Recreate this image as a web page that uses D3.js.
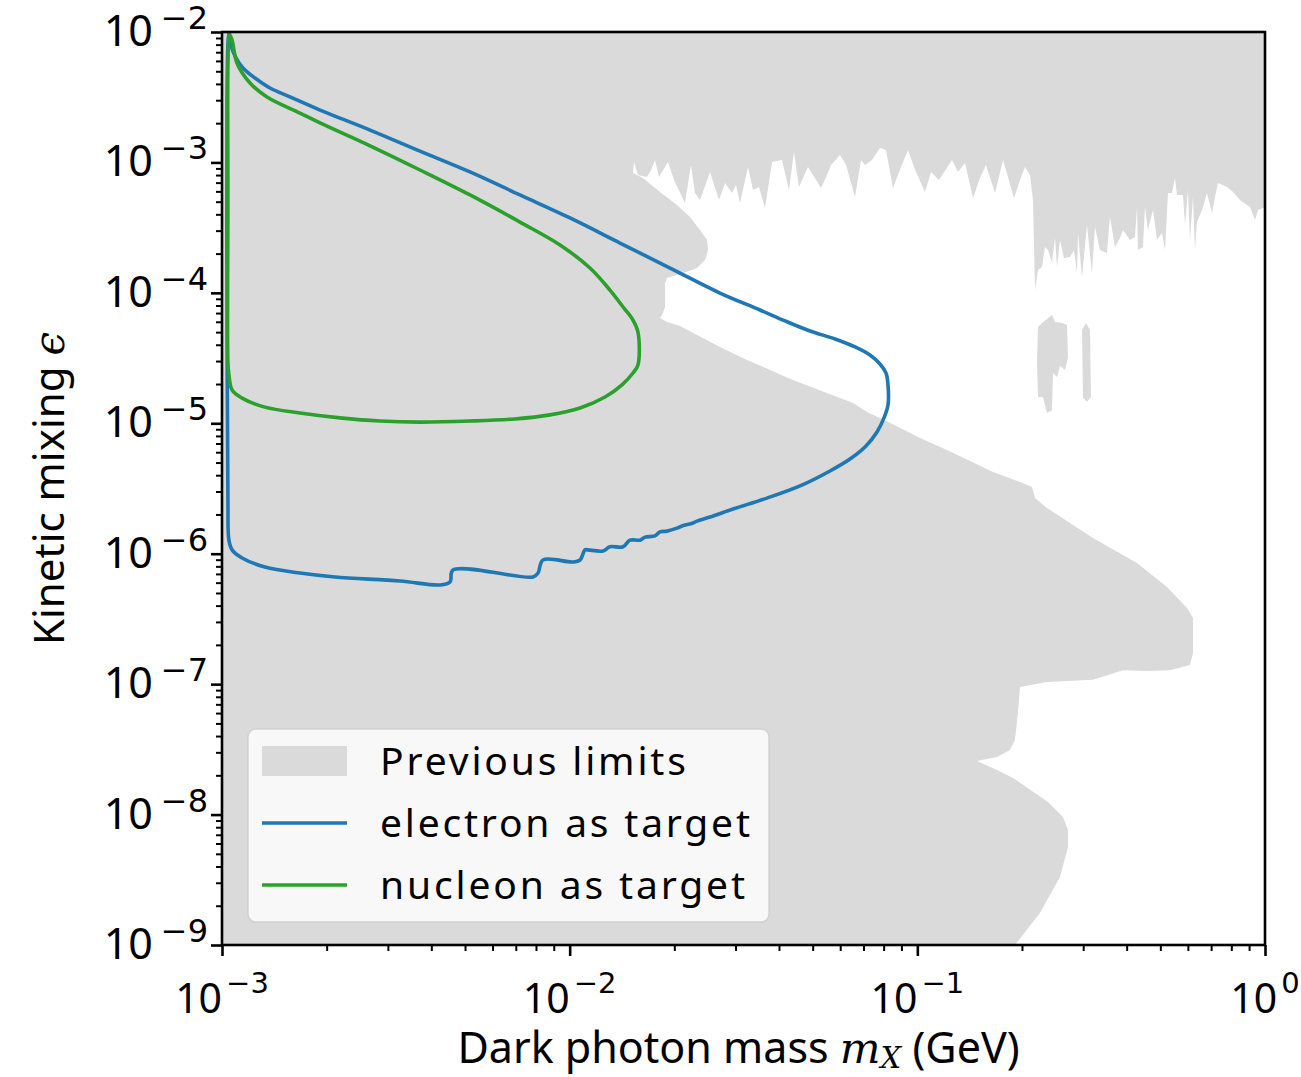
<!DOCTYPE html>
<html>
<head>
<meta charset="utf-8">
<script src="https://cdn.jsdelivr.net/npm/d3@7"></script>
<style>
  body { margin: 0; background: #ffffff; }
  svg { display: block; }
  text { font-family: "Noto Sans", "DejaVu Sans", sans-serif; fill: #000; }
</style>
</head>
<body>
<svg id="chart" width="1301" height="1077"></svg>
<script>
// ---- data -------------------------------------------------------------
// axis decades (powers of ten)
const xTickExponents = [-3, -2, -1, 0];
const yTickExponents = [-9, -8, -7, -6, -5, -4, -3, -2];

// sensitivity contour, electron as target: [mass (GeV), epsilon]
const electronTarget = [
  [1.047e-3, 9.82e-3], [1.061e-3, 7.95e-3], [1.090e-3, 6.55e-3], [1.149e-3, 5.30e-3],
  [1.244e-3, 4.44e-3], [1.374e-3, 3.72e-3], [1.569e-3, 3.18e-3], [1.914e-3, 2.52e-3],
  [2.666e-3, 1.77e-3], [3.711e-3, 1.22e-3], [5.168e-3, 8.45e-4], [7.195e-3, 5.63e-4],
  [1.002e-2, 3.75e-4], [1.396e-2, 2.41e-4], [1.944e-2, 1.55e-4], [2.706e-2, 9.97e-5],
  [3.528e-2, 7.39e-5], [4.163e-2, 6.09e-5], [4.913e-2, 5.10e-5], [5.797e-2, 4.43e-5],
  [6.619e-2, 3.85e-5], [7.307e-2, 3.34e-5], [7.808e-2, 2.85e-5], [8.125e-2, 2.43e-5],
  [8.234e-2, 1.97e-5], [8.234e-2, 1.38e-5], [8.018e-2, 1.10e-5], [7.656e-2, 8.58e-6],
  [7.118e-2, 6.70e-6], [6.401e-2, 5.32e-6], [5.608e-2, 4.31e-6], [4.598e-2, 3.31e-6],
  [3.695e-2, 2.67e-6], [2.950e-2, 2.20e-6], [2.533e-2, 1.91e-6], [2.324e-2, 1.78e-6],
  [2.263e-2, 1.72e-6], [2.104e-2, 1.63e-6], [2.036e-2, 1.57e-6], [1.905e-2, 1.49e-6],
  [1.819e-2, 1.47e-6], [1.760e-2, 1.37e-6], [1.647e-2, 1.34e-6], [1.594e-2, 1.27e-6],
  [1.491e-2, 1.27e-6], [1.424e-2, 1.13e-6], [1.306e-2, 1.13e-6], [1.247e-2, 1.05e-6],
  [1.129e-2, 1.07e-6], [1.107e-2, 1.07e-6], [1.071e-2, 8.95e-7], [1.022e-2, 8.64e-7],
  [8.380e-3, 8.95e-7], [8.107e-3, 7.11e-7], [7.843e-3, 6.63e-7], [4.617e-3, 7.50e-7],
  [4.526e-3, 6.07e-7], [4.236e-3, 5.76e-7], [3.251e-3, 6.18e-7], [2.113e-3, 6.63e-7],
  [1.676e-3, 7.11e-7], [1.329e-3, 7.91e-7], [1.142e-3, 9.27e-7], [1.069e-3, 1.07e-6],
  [1.047e-3, 1.27e-6], [1.040e-3, 2.58e-6], [1.034e-3, 8.82e-5], [1.034e-3, 3.01e-3],
  [1.040e-3, 7.95e-3], [1.047e-3, 9.82e-3]
];

// sensitivity contour, nucleon as target: [mass (GeV), epsilon]
const nucleonTarget = [
  [1.047e-3, 9.82e-3], [1.069e-3, 8.68e-3], [1.104e-3, 5.78e-3], [1.204e-3, 4.06e-3],
  [1.347e-3, 3.18e-3], [1.676e-3, 2.39e-3], [1.914e-3, 2.01e-3], [2.666e-3, 1.34e-3],
  [3.711e-3, 8.75e-4], [5.168e-3, 5.63e-4], [7.195e-3, 3.49e-4], [9.381e-3, 2.33e-4],
  [1.144e-2, 1.55e-4], [1.306e-2, 1.05e-4], [1.424e-2, 7.79e-5], [1.521e-2, 6.19e-5],
  [1.572e-2, 5.01e-5], [1.572e-2, 2.80e-5], [1.521e-2, 2.43e-5], [1.414e-2, 1.97e-5],
  [1.264e-2, 1.59e-5], [1.071e-2, 1.31e-5], [8.779e-3, 1.16e-5], [6.961e-3, 1.08e-5],
  [5.168e-3, 1.04e-5], [3.711e-3, 1.02e-5], [2.848e-3, 1.04e-5], [2.185e-3, 1.10e-5],
  [1.676e-3, 1.20e-5], [1.329e-3, 1.33e-5], [1.142e-3, 1.56e-5], [1.069e-3, 1.80e-5],
  [1.047e-3, 2.35e-5], [1.040e-3, 2.90e-5], [1.040e-3, 5.15e-4], [1.040e-3, 6.10e-3],
  [1.047e-3, 9.82e-3]
];

// previous limits: everything is excluded except the gap bounded by this outline
const openGap = [
  [1.521e-2, 8.30e-4], [1.531e-2, 1.008e-3], [1.572e-2, 8.01e-4], [1.669e-2, 7.73e-4],
  [1.714e-2, 8.75e-4], [1.760e-2, 1.044e-3], [1.807e-2, 7.73e-4], [1.918e-2, 1.008e-3],
  [1.996e-2, 7.34e-4], [2.146e-2, 4.89e-4], [2.233e-2, 9.56e-4], [2.293e-2, 5.83e-4],
  [2.371e-2, 5.15e-4], [2.533e-2, 8.45e-4], [2.689e-2, 5.15e-4], [2.798e-2, 6.96e-4],
  [2.931e-2, 5.83e-4], [3.009e-2, 6.71e-4], [3.090e-2, 4.89e-4], [3.258e-2, 9.23e-4],
  [3.368e-2, 6.15e-4], [3.505e-2, 6.48e-4], [3.647e-2, 4.47e-4], [3.820e-2, 1.008e-3],
  [4.080e-2, 1.044e-3], [4.274e-2, 6.15e-4], [4.417e-2, 1.202e-3], [4.566e-2, 6.48e-4],
  [4.847e-2, 9.23e-4], [5.284e-2, 6.37e-4], [5.498e-2, 8.01e-4], [5.646e-2, 9.56e-4],
  [5.994e-2, 1.140e-3], [6.237e-2, 9.56e-4], [6.619e-2, 5.43e-4], [6.886e-2, 1.044e-3],
  [7.071e-2, 9.56e-4], [7.404e-2, 1.044e-3], [7.808e-2, 1.290e-3], [8.125e-2, 1.245e-3],
  [8.511e-2, 6.37e-4], [8.974e-2, 9.23e-4], [9.400e-2, 1.245e-3], [9.781e-2, 9.23e-4],
  [1.052e-1, 5.93e-4], [1.095e-1, 8.45e-4], [1.154e-1, 7.34e-4], [1.258e-1, 1.044e-3],
  [1.309e-1, 8.45e-4], [1.371e-1, 9.90e-4], [1.446e-1, 5.34e-4], [1.514e-1, 7.60e-4],
  [1.576e-1, 9.56e-4], [1.673e-1, 5.83e-4], [1.764e-1, 1.044e-3], [1.897e-1, 5.34e-4],
  [1.974e-1, 7.34e-4], [2.040e-1, 9.23e-4], [2.109e-1, 8.01e-4], [2.151e-1, 5.15e-4],
  [2.180e-1, 1.05e-4], [2.224e-1, 1.50e-4], [2.283e-1, 1.58e-4], [2.329e-1, 2.25e-4],
  [2.376e-1, 2.13e-4], [2.439e-1, 1.72e-4], [2.489e-1, 2.63e-4], [2.522e-1, 1.58e-4],
  [2.572e-1, 2.54e-4], [2.641e-1, 1.85e-4], [2.748e-1, 1.88e-4], [2.822e-1, 2.13e-4],
  [2.879e-1, 1.42e-4], [2.898e-1, 2.88e-4], [2.976e-1, 1.32e-4], [3.076e-1, 3.31e-4],
  [3.179e-1, 1.42e-4], [3.243e-1, 3.20e-4], [3.352e-1, 2.13e-4], [3.511e-1, 2.02e-4],
  [3.581e-1, 3.82e-4], [3.702e-1, 2.25e-4], [3.827e-1, 2.63e-4], [3.904e-1, 3.03e-4],
  [4.089e-1, 2.54e-4], [4.227e-1, 2.68e-4], [4.283e-1, 4.47e-4], [4.311e-1, 2.13e-4],
  [4.457e-1, 2.25e-4], [4.516e-1, 4.55e-4], [4.607e-1, 3.03e-4], [4.762e-1, 4.32e-4],
  [4.890e-1, 2.54e-4], [5.055e-1, 2.88e-4], [5.157e-1, 2.13e-4], [5.260e-1, 5.83e-4],
  [5.401e-1, 5.83e-4], [5.509e-1, 7.60e-4], [5.583e-1, 5.63e-4], [5.809e-1, 5.63e-4],
  [5.886e-1, 3.31e-4], [6.004e-1, 6.15e-4], [6.084e-1, 2.54e-4], [6.206e-1, 5.43e-4],
  [6.289e-1, 2.13e-4], [6.373e-1, 3.49e-4], [6.587e-1, 4.32e-4], [6.809e-1, 5.83e-4],
  [7.038e-1, 4.10e-4], [7.180e-1, 5.43e-4], [7.324e-1, 6.96e-4], [7.776e-1, 6.48e-4],
  [8.091e-1, 5.93e-4], [8.474e-1, 5.15e-4], [9.055e-1, 4.55e-4], [9.360e-1, 3.62e-4],
  [9.546e-1, 4.32e-4], [9.868e-1, 4.47e-4], [1.0, 4.47e-4], [1.0, 1e-9],
  [1.909e-1, 1e-9], [2.253e-1, 1.76e-9], [2.572e-1, 3.32e-9], [2.712e-1, 5.64e-9],
  [2.712e-1, 7.62e-9], [2.624e-1, 9.58e-9], [2.376e-1, 1.25e-8], [1.884e-1, 1.91e-8],
  [1.695e-1, 2.20e-8], [1.484e-1, 2.58e-8], [1.695e-1, 2.76e-8], [1.847e-1, 3.13e-8],
  [1.909e-1, 3.73e-8], [1.947e-1, 6.01e-8], [1.974e-1, 9.51e-8], [2.360e-1, 1.04e-7],
  [3.200e-1, 1.08e-7], [3.904e-1, 1.28e-7], [4.576e-1, 1.26e-7], [5.330e-1, 1.28e-7],
  [6.084e-1, 1.40e-7], [6.206e-1, 1.73e-7], [6.206e-1, 3.22e-7], [5.965e-1, 3.84e-7],
  [5.225e-1, 5.56e-7], [4.283e-1, 8.49e-7], [3.200e-1, 1.32e-6], [2.360e-1, 2.24e-6],
  [2.180e-1, 2.67e-6], [2.137e-1, 3.25e-6], [1.974e-1, 3.55e-6], [1.651e-1, 4.23e-6],
  [1.217e-1, 6.24e-6], [1.018e-1, 7.71e-6], [8.344e-2, 1.01e-5], [7.165e-2, 1.22e-5],
  [6.532e-2, 1.43e-5], [4.388e-2, 2.15e-5], [3.236e-2, 3.06e-5], [2.706e-2, 3.85e-5],
  [2.077e-2, 5.57e-5], [1.905e-2, 5.98e-5], [1.819e-2, 6.42e-5], [1.844e-2, 6.77e-5],
  [1.881e-2, 7.79e-5], [1.881e-2, 1.19e-4], [1.905e-2, 1.30e-4], [2.036e-2, 1.37e-4],
  [2.175e-2, 1.45e-4], [2.324e-2, 1.55e-4], [2.451e-2, 1.79e-4], [2.500e-2, 2.13e-4],
  [2.483e-2, 2.54e-4], [2.371e-2, 3.03e-4], [2.219e-2, 3.82e-4], [2.036e-2, 4.72e-4],
  [1.819e-2, 5.93e-4], [1.625e-2, 7.60e-4]
];

// small excluded islands inside the gap
const islandA = [
  [2.224e-1, 5.47e-5], [2.283e-1, 5.87e-5], [2.439e-1, 6.77e-5], [2.489e-1, 5.98e-5],
  [2.607e-1, 5.87e-5], [2.694e-1, 5.67e-5], [2.712e-1, 3.22e-5], [2.659e-1, 2.56e-5],
  [2.572e-1, 2.75e-5], [2.522e-1, 2.26e-5], [2.456e-1, 2.43e-5], [2.439e-1, 1.26e-5],
  [2.360e-1, 1.20e-5], [2.298e-1, 1.59e-5], [2.224e-1, 1.59e-5], [2.209e-1, 2.90e-5]
];
const islandB = [
  [2.976e-1, 5.19e-5], [3.056e-1, 5.87e-5], [3.138e-1, 5.19e-5], [3.158e-1, 1.59e-5],
  [3.076e-1, 1.46e-5], [2.996e-1, 1.56e-5]
];

const legendLabels = ["Previous limits", "electron as target", "nucleon as target"];

// ---- layout -----------------------------------------------------------
const plot = { left: 222, right: 1265, top: 32, bottom: 945 };
const GRAY = "#dadada", BLUE = "#1f77b4", GREEN = "#2ca02c";
const TICK_FONT = 41, SUP = 29, TITLE_FONT = 43, LEGEND_FONT = 39;
const MATH = "'DejaVu Serif', 'Liberation Serif', serif";

const svg = d3.select("#chart");

const x = d3.scaleLog().domain([1e-3, 1]).range([plot.left, plot.right]);
const y = d3.scaleLog().domain([1e-9, 1e-2]).range([plot.bottom, plot.top]);

svg.append("defs").append("clipPath").attr("id", "plotClip")
  .append("rect")
  .attr("x", x.range()[0]).attr("y", y.range()[1])
  .attr("width", x.range()[1] - x.range()[0])
  .attr("height", y.range()[0] - y.range()[1]);

const g = svg.append("g").attr("clip-path", "url(#plotClip)");

const polyLine = d3.line().x(d => x(d[0])).y(d => y(d[1])).curve(d3.curveLinear);
const contourLine = d3.line().x(d => x(d[0])).y(d => y(d[1])).curve(d3.curveCatmullRom.alpha(0.5));

// excluded region = full frame with the open gap cut out
const [x0, x1] = x.range();
const [y0, y1] = y.range();
const frame = `M${x0},${y1}H${x1}V${y0}H${x0}Z`;
g.append("path")
  .attr("d", frame + polyLine(openGap) + "Z")
  .attr("fill", GRAY)
  .attr("fill-rule", "evenodd");
[islandA, islandB].forEach(poly => {
  g.append("path").attr("d", polyLine(poly) + "Z").attr("fill", GRAY);
});

// sensitivity contours
[[electronTarget, BLUE], [nucleonTarget, GREEN]].forEach(([data, color]) => {
  g.append("path")
    .attr("d", contourLine(data))
    .attr("fill", "none")
    .attr("stroke", color)
    .attr("stroke-width", 3.6)
    .attr("stroke-linejoin", "round")
    .attr("stroke-linecap", "round");
});

// ---- axes -------------------------------------------------------------
const decades = e => d3.range(2, 10).map(k => k * Math.pow(10, e));
const xMajor = xTickExponents.map(e => Math.pow(10, e));
const yMajor = yTickExponents.map(e => Math.pow(10, e));
const xMinor = xTickExponents.slice(0, -1).flatMap(decades);
const yMinor = yTickExponents.slice(0, -1).flatMap(decades);

function styleAxis(sel, width) {
  sel.select(".domain").remove();
  sel.selectAll(".tick line").attr("stroke", "#000").attr("stroke-width", width);
}

svg.append("g").attr("transform", `translate(0,${plot.bottom})`)
  .call(d3.axisBottom(x).tickValues(xMinor).tickSize(6).tickFormat(""))
  .call(s => styleAxis(s, 2));
svg.append("g").attr("transform", `translate(0,${plot.bottom})`)
  .call(d3.axisBottom(x).tickValues(xMajor).tickSize(11).tickFormat(""))
  .call(s => styleAxis(s, 2.6));
svg.append("g").attr("transform", `translate(${plot.left},0)`)
  .call(d3.axisLeft(y).tickValues(yMinor).tickSize(6).tickFormat(""))
  .call(s => styleAxis(s, 2));
svg.append("g").attr("transform", `translate(${plot.left},0)`)
  .call(d3.axisLeft(y).tickValues(yMajor).tickSize(11).tickFormat(""))
  .call(s => styleAxis(s, 2.6));

// frame
svg.append("rect")
  .attr("x", x0).attr("y", y1).attr("width", x1 - x0).attr("height", y0 - y1)
  .attr("fill", "none").attr("stroke", "#000").attr("stroke-width", 2.6);

// power-of-ten tick labels
function powerLabel(text, e, supShift, supSize, gap) {
  text.append("tspan").text("10");
  text.append("tspan")
    .attr("dy", -supShift)
    .attr("dx", gap)
    .attr("font-family", "'DejaVu Sans', sans-serif")
    .attr("font-size", supSize)
    .text(e < 0 ? "\u2212" + (-e) : String(e));
}

xTickExponents.forEach(e => {
  const t = svg.append("text")
    .attr("x", x(Math.pow(10, e)))
    .attr("y", plot.bottom + 68)
    .attr("text-anchor", "middle")
    .attr("font-size", TICK_FONT);
  powerLabel(t, e, 20, SUP, 4);
});

yTickExponents.forEach(e => {
  const t = svg.append("text")
    .attr("x", plot.left - 14)
    .attr("y", y(Math.pow(10, e)) + 14)
    .attr("text-anchor", "end")
    .attr("font-size", TICK_FONT + 2);
  powerLabel(t, e, 17, SUP + 3, 8);
});

// axis titles
const xTitle = svg.append("text")
  .attr("x", (x0 + x1) / 2 - 5)
  .attr("y", 1063)
  .attr("text-anchor", "middle")
  .attr("font-size", TITLE_FONT);
xTitle.append("tspan").text("Dark photon mass ");
xTitle.append("tspan")
  .attr("font-family", MATH)
  .attr("font-style", "italic").text("m");
xTitle.append("tspan")
  .attr("font-family", MATH)
  .attr("font-style", "italic")
  .attr("font-size", SUP).attr("dy", 5).text("X");
xTitle.append("tspan").attr("dy", -5).text(" (GeV)");

const yTitle = svg.append("text")
  .attr("transform", `translate(64,${(y0 + y1) / 2}) rotate(-90)`)
  .attr("text-anchor", "middle")
  .attr("font-size", TITLE_FONT - 1);
yTitle.append("tspan").text("Kinetic mixing ");
yTitle.append("tspan")
  .attr("font-family", MATH)
  .attr("font-style", "italic").text("\u03f5");

// ---- legend -----------------------------------------------------------
const legend = svg.append("g").attr("transform", "translate(248,729)");
legend.append("rect")
  .attr("width", 521).attr("height", 193).attr("rx", 8)
  .attr("fill", "#ffffff").attr("fill-opacity", 0.8)
  .attr("stroke", "#cccccc").attr("stroke-opacity", 0.8).attr("stroke-width", 1.5);

const rowY = [32, 94, 156];
const textWidths = [306, 370, 365];
legend.append("rect")
  .attr("x", 14).attr("y", rowY[0] - 15).attr("width", 85).attr("height", 30)
  .attr("fill", GRAY);
[BLUE, GREEN].forEach((c, i) => {
  legend.append("line")
    .attr("x1", 14).attr("x2", 99)
    .attr("y1", rowY[i + 1]).attr("y2", rowY[i + 1])
    .attr("stroke", c).attr("stroke-width", 3.6);
});
legendLabels.forEach((label, i) => {
  legend.append("text")
    .attr("x", 132).attr("y", rowY[i] + 14)
    .attr("font-size", LEGEND_FONT)
    .attr("textLength", textWidths[i])
    .attr("lengthAdjust", "spacing")
    .text(label);
});
</script>
</body>
</html>
